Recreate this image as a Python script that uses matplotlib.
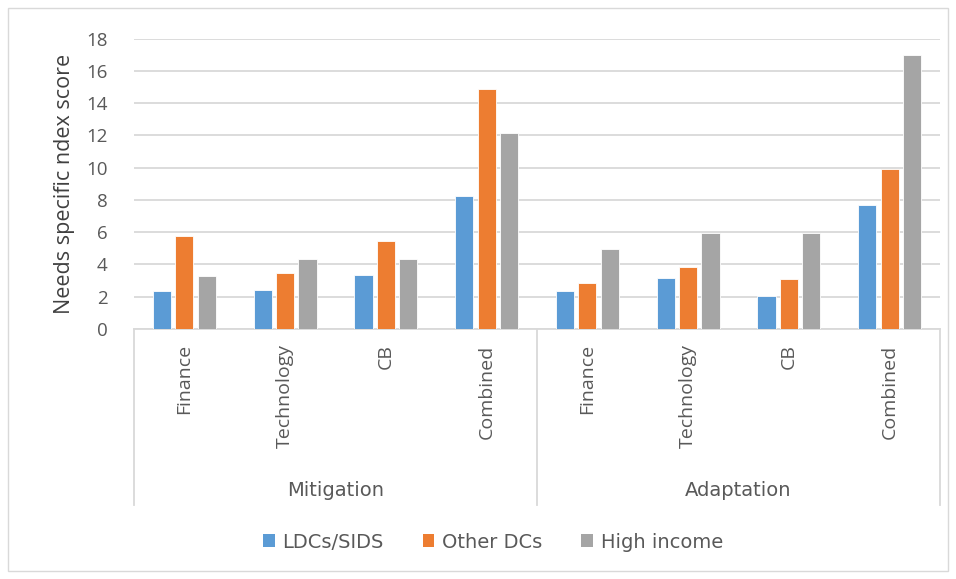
import matplotlib.pyplot as plt
from matplotlib.patches import Rectangle, Patch
import numpy as np

# Дані
groups = ['Mitigation', 'Adaptation']
categories = ['Finance', 'Technology', 'CB', 'Combined',
              'Finance', 'Technology', 'CB', 'Combined']
series_names = ['LDCs/SIDS', 'Other DCs', 'High income']
ldcs_sids = [2.35, 2.42, 3.37, 8.22, 2.33, 3.14, 2.02, 7.67]
other_dcs = [5.78, 3.48, 5.48, 14.84, 2.83, 3.87, 3.08, 9.93]
high_income = [3.31, 4.36, 4.36, 12.15, 4.98, 5.96, 5.96, 17.0]
yticks = [0, 2, 4, 6, 8, 10, 12, 14, 16, 18]

colors = ['#5b9bd5', '#ed7d31', '#a5a5a5']
grid_col = '#d9d9d9'
text_col = '#595959'

W, H = 956, 579
fig = plt.figure(figsize=(W / 100, H / 100), dpi=100)
fig.patches.append(Rectangle((8 / W, 1 - 571 / H), 940 / W, 563 / H,
                             transform=fig.transFigure, fill=False,
                             edgecolor=grid_col, linewidth=1))

ax = fig.add_axes([134 / W, 1 - 329 / H, 806 / W, 290.5 / H])

x = np.arange(len(categories))
bw = 0.18
step = 0.222
for i, vals in enumerate([ldcs_sids, other_dcs, high_income]):
    ax.bar(x + (i - 1) * step, vals, bw, color=colors[i],
           edgecolor='white', linewidth=0.6, zorder=3, label=series_names[i])

ax.set_xlim(-0.5, len(categories) - 0.5)
ax.set_ylim(0, 18)
ax.set_yticks(yticks)
ax.set_yticklabels([str(t) for t in yticks], fontsize=13.5, color=text_col,
                   family='Open Sans')
ax.tick_params(axis='y', length=0, pad=19)
ax.yaxis.grid(True, color=grid_col, linewidth=1.3, zorder=0)
for s in ['top', 'right', 'left']:
    ax.spines[s].set_visible(False)
ax.spines['bottom'].set_color(grid_col)
ax.spines['bottom'].set_linewidth(1.3)

ax.set_xticks(x)
ax.set_xticklabels(categories, rotation=90, fontsize=14, color=text_col,
                   family='Open Sans', va='top')
ax.tick_params(axis='x', length=0, pad=11)

ax.set_ylabel('Needs specific ndex score', fontsize=15.5, color='#404040',
              family='Open Sans', labelpad=8)

# Двохрівнева вісь категорій
trans = ax.get_xaxis_transform()
depth = -(505 - 329) / 290.5
for sep in [-0.5, 3.5, 7.5]:
    ax.plot([sep, sep], [0, depth], transform=trans, color=grid_col,
            linewidth=1.3, clip_on=False)
for j, g in enumerate(groups):
    ax.text(1.5 + 4 * j, -(491 - 329) / 290.5, g, transform=trans,
            ha='center', va='center', fontsize=14, color=text_col,
            family=['Liberation Sans Narrow', 'DejaVu Sans'])

handles = [Patch(facecolor=c) for c in colors]
fig.legend(handles, series_names, loc='center', bbox_to_anchor=(493 / W, 1 - 542 / H),
           ncol=3, frameon=False, handlelength=0.6, handleheight=0.6,
           handletextpad=0.4, columnspacing=2.0,
           prop={'family': ['Liberation Sans Narrow', 'DejaVu Sans'], 'size': 14},
           labelcolor=text_col)

fig.savefig('out.png', dpi=100)
